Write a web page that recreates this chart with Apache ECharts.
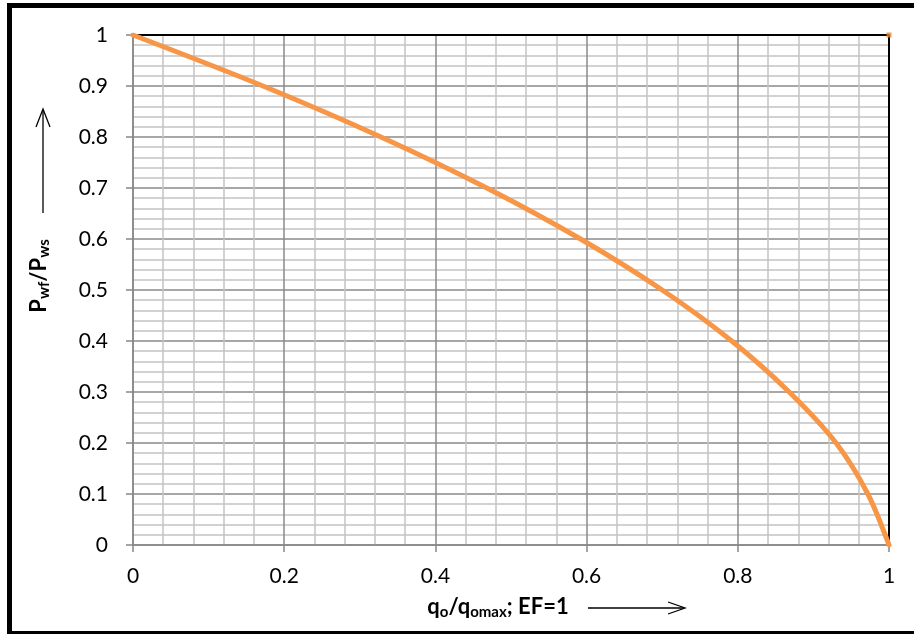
<!DOCTYPE html>
<html>
<head>
<meta charset="utf-8">
<script src="https://cdn.jsdelivr.net/npm/echarts@6/dist/echarts.min.js"></script>
<style>html,body{margin:0;padding:0;background:#fff}#c{width:914px;height:634px}</style>
</head>
<body>
<div id="c"></div>
<script>
// Data
const pressureRatio = [1, 0.9, 0.8, 0.7, 0.6, 0.5, 0.4, 0.3, 0.2, 0.1, 0];
const rateRatio     = [0, 0.172, 0.328, 0.468, 0.592, 0.7, 0.792, 0.868, 0.93, 0.972, 1];
const frameX = [0, 1, 1];
const frameY = [1, 1, 0];
const cornerPoint = [[1, 1]];

const curve = rateRatio.map((x, i) => [x, pressureRatio[i]]);
const frame = frameX.map((x, i) => [x, frameY[i]]);

const chart = echarts.init(document.getElementById('c'), null, {renderer: 'canvas'});
const F = 'Lato, "Open Sans", sans-serif';
const richName = {
  b: {fontFamily: F, fontWeight: 'bold', fontSize: 22, color: '#000', lineHeight: 26, verticalAlign: 'middle'},
  s: {fontFamily: F, fontWeight: 'bold', fontSize: 15, color: '#000', lineHeight: 15, verticalAlign: 'bottom'}
};
chart.setOption({
  animation: false,
  backgroundColor: '#fff',
  grid: {left: 133, right: 25, top: 35, bottom: 89, containLabel: false},
  xAxis: {
    type: 'value', min: 0, max: 1, interval: 0.2,
    axisLine: {show: true, onZero: false, lineStyle: {color: '#868686', width: 1.5}},
    axisTick: {show: true, length: 7, lineStyle: {color: '#868686', width: 1.5}},
    axisLabel: {color: '#000', fontSize: 21, fontFamily: F, margin: 21},
    splitLine: {show: true, lineStyle: {color: '#8a8a8a', width: 1.5}},
    minorTick: {show: false, splitNumber: 5},
    minorSplitLine: {show: true, lineStyle: {color: '#c3c3c3', width: 1.5}},
    name: '{b|q}{s|o}{b|/q}{s|omax}{b|; EF=1}',
    nameLocation: 'middle', nameGap: 49,
    nameTextStyle: {padding: [0, 26, 0, 0], rich: richName}
  },
  yAxis: {
    type: 'value', min: 0, max: 1, interval: 0.1,
    axisLine: {show: true, onZero: false, lineStyle: {color: '#868686', width: 1.5}},
    axisTick: {show: true, length: 7, lineStyle: {color: '#868686', width: 1.5}},
    axisLabel: {color: '#000', fontSize: 21, fontFamily: F, margin: 25},
    splitLine: {show: true, lineStyle: {color: '#8a8a8a', width: 1.5}},
    minorTick: {show: false, splitNumber: 5},
    minorSplitLine: {show: true, lineStyle: {color: '#c3c3c3', width: 1.5}},
    name: '{b|P}{s|wf}{b|/P}{s|ws}',
    nameLocation: 'middle', nameGap: 81, nameRotate: 90,
    nameTextStyle: {padding: [0, 0, 0, 28], rich: richName}
  },
  series: [
    {
      type: 'line', data: frame, showSymbol: false, symbol: 'none',
      lineStyle: {color: '#000', width: 2}, z: 2, silent: true
    },
    {
      type: 'line', data: curve, smooth: 0.3, showSymbol: false, symbol: 'none',
      lineStyle: {color: '#f79646', width: 5, cap: 'round'}, z: 3
    },
    {
      type: 'scatter', data: cornerPoint, symbol: 'rect', symbolSize: 5,
      itemStyle: {color: '#e3862f'}, z: 4
    }
  ],
  graphic: [
    {type: 'rect', shape: {x: 9.5, y: 5.5, width: 914, height: 628}, style: {fill: null, stroke: '#000', lineWidth: 5}, silent: true},
    {type: 'polyline', shape: {points: [[588, 608], [684, 608]]}, style: {stroke: '#000', lineWidth: 1.3, fill: null}},
    {type: 'polyline', shape: {points: [[668, 602], [685, 608], [668, 614]]}, style: {stroke: '#000', lineWidth: 1.3, fill: null}},
    {type: 'polyline', shape: {points: [[43, 213], [43, 110]]}, style: {stroke: '#000', lineWidth: 1.3, fill: null}},
    {type: 'polyline', shape: {points: [[36, 127], [43, 109], [50, 127]]}, style: {stroke: '#000', lineWidth: 1.3, fill: null}}
  ]
});
</script>
</body>
</html>
